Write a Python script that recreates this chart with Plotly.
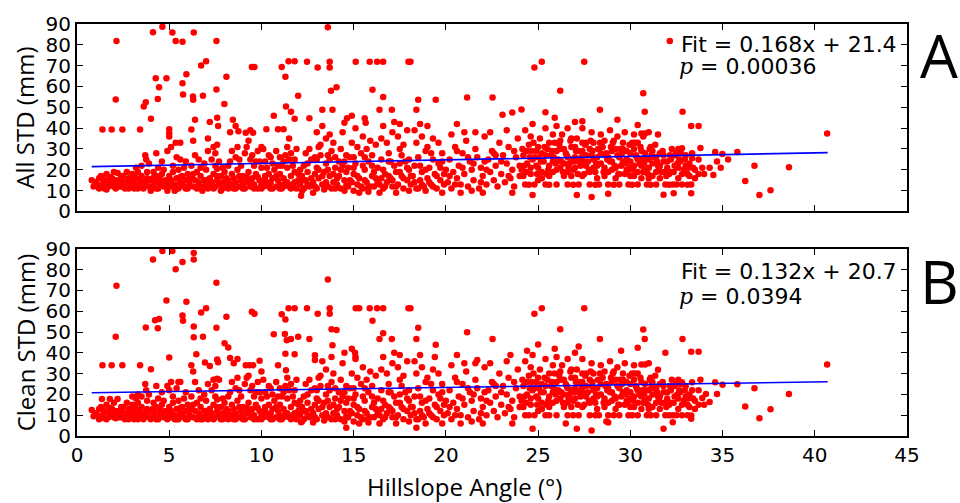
import plotly.graph_objects as go

# ---------------- data ----------------
# Panel A: All STD (mm) vs hillslope angle (deg)
all_std_points = [
    (0.8,15),(1.0,14),(1.1,13),(1.2,16),(1.3,12),(1.3,17),(1.4,13),(1.5,11),(1.5,15),(1.6,18),(1.6,10.5),(1.7,12),(1.7,14.5),
    (1.8,14),(1.9,13),(1.9,16),(2.0,12),(2.0,19),(2.2,18.5),
    (1.38,39.3),(1.88,39.3),(2.46,39.3),(2.14,81.8),(2.1,53.7),
    (2.1,11),(2.2,13),(2.3,15),(2.4,12),(2.5,14),(2.5,17),(2.6,11),(2.7,13),(2.7,19),(2.8,16),(2.9,12),(3.0,14),(3.0,18),
    (3.1,11),(3.2,13),(3.2,16),(3.2,21),(3.3,19),(3.4,12),(3.4,15),(3.5,17),(3.5,22),(3.6,11),(3.6,14),(3.7,13),(3.7,27),
    (3.75,25),(3.8,16),(3.8,19),(3.9,12),(4.0,15),(4.0,10),
    (3.42,39.3),(3.62,50.4),(3.73,52.4),(4.01,44.5),(4.27,63.9),(4.38,54.0),(4.45,59.6),(4.12,86.0),(4.63,88.7),(4.3,28),(4.6,24),
    (4.1,12),(4.15,19),(4.2,14),(4.3,11),(4.3,17),(4.4,16),(4.5,13),(4.6,18),(4.6,14),(4.7,12),(4.7,20),(4.8,15),(4.9,10),
    (4.9,29),(5.0,14),(5.0,17),(5.0,36),(5.1,12),(5.1,31),(5.2,19),(5.2,22),(5.3,13),(5.3,10),(5.4,16),(5.4,26),(5.5,11),
    (5.5,20),(5.6,14),(5.6,25),(5.7,17),(5.7,13),(5.8,12),(5.8,21),(5.9,15),(6.0,18),(6.0,11),
    (4.85,63.9),(5.17,85.9),(5.35,81.8),(5.72,81.5),(5.72,61.5),(5.75,56.1),(5.93,65.9),(5.0,39.5),(5.0,37.5),(5.35,33),
    (5.6,33),(6.33,85.9),(6.29,55.2),(6.3,53.6),(6.2,39.3),(6.4,44),(6.3,34),(6.4,27),
    (6.1,13),(6.2,16),(6.2,22),(6.3,12),(6.4,15),(6.5,19),(6.5,11),(6.6,14),(6.6,25),(6.7,17),(6.8,12),(6.8,10),(6.9,15),
    (6.9,23),(7.0,13),(7.0,20),(7.1,11),(7.1,29),(7.2,16),(7.2,12),(7.3,14),(7.3,25),(7.4,18),(7.4,31),(7.5,12),(7.5,22),
    (7.5,28),(7.6,15),(7.7,13),(7.7,24),(7.8,17),(7.8,10),(7.9,11),(7.9,21),(8.0,14),(8.0,19),
    (6.83,55.6),(6.73,70.1),(7.0,72.1),(7.56,81.8),(7.56,58.6),(7.2,43),(7.6,45),(7.65,41),(7.1,35),(7.6,32),
    (8.1,12),(8.2,15),(8.3,13),(8.3,24),(8.4,18),(8.4,29),(8.5,11),(8.5,16),(8.6,14),(8.6,26),(8.7,20),(8.7,31),(8.8,12),
    (8.9,15),(8.9,22),(9.0,13),(9.0,17),(9.1,11),(9.1,28),(9.2,14),(9.2,31),(9.3,19),(9.3,34),(9.4,12),(9.4,25),(9.5,16),
    (9.5,27),(9.6,13),(9.6,22),(9.7,18),(9.8,11),(9.8,29),(9.9,15),(9.9,24),(10.0,13),(10.0,21),
    (8.1,64.7),(7.99,51.6),(8.3,38),(8.45,44),(8.6,41),(8.75,38.5),(9.48,69.3),(9.62,69.3),(9.15,37.8),(9.55,37.8),(9.4,39),(10.0,31),
    (10.1,12),(10.1,30),(10.2,15),(10.2,24),(10.3,13),(10.3,21),(10.4,18),(10.4,27),(10.5,11),(10.5,14),(10.6,16),(10.6,23),
    (10.7,20),(10.8,12),(10.8,29),(10.9,15),(11.0,13),(11.0,18),(11.0,26),(11.1,11),(11.1,22),(11.2,16),(11.2,24),(11.3,14),
    (11.4,21),(11.4,31),(11.5,12),(11.6,17),(11.6,28),(11.7,13),(11.7,22),(11.8,19),(11.8,25),(11.9,11),(11.9,30),(12.0,15),
    (10.67,46),(10.27,39.5),(10.9,39.5),(11.2,39.5),(11.1,69.3),(11.47,72.1),(11.8,72.1),(11.3,64.7),(11.33,50.4),
    (11.6,47.9),(11.8,44.5),(11.99,55.5),(11.5,35),(12.15,7.6),
    (12.1,13),(12.2,17),(12.2,10),(12.3,11),(12.3,22),(12.4,15),(12.4,28),(12.5,19),(12.6,12),(12.6,30),(12.7,25),(12.8,14),
    (12.8,9),(12.9,18),(12.9,26),(13.0,11),(13.0,21),(13.1,16),(13.1,31),(13.2,27),(13.2,32),(13.3,13),(13.4,19),(13.4,10.5),
    (13.5,23),(13.5,35),(13.6,12),(13.7,17),(13.7,25),(13.8,29),(13.9,14),(13.9,33),(14.0,21),(14.0,11),
    (12.47,71.9),(13.05,69.1),(13.7,71.9),(13.7,69.1),(13.6,88.4),(12.6,44.7),(13.3,48.8),(13.85,48.8),(14.07,59.6),
    (13.77,58),(13.0,38),(13.7,37),(13.3,41),
    (14.1,13),(14.2,17),(14.2,24),(14.3,11),(14.3,30),(14.4,22),(14.4,38),(14.5,15),(14.6,19),(14.6,27),(14.7,12),(14.7,21),
    (14.8,26),(14.9,14),(14.9,33),(15.0,18),(15.0,10),(15.1,23),(15.1,40),(15.2,13),(15.2,31),(15.3,16),(15.3,9),(15.4,28),
    (15.5,11),(15.5,36),(15.6,20),(15.6,26),(15.7,14),(15.7,30),(15.8,24),(15.8,9.5),(15.9,12),(15.9,34),(16.0,17),
    (15.11,71.9),(15.87,71.9),(14.5,42.6),(14.64,44.7),(15.6,44.7),(15.65,42.6),(16.02,58.4),(14.9,46),
    (16.1,12),(16.2,16),(16.2,32),(16.3,21),(16.4,13),(16.4,9),(16.5,25),(16.5,35),(16.6,11),(16.7,18),(16.8,14),(16.8,33),
    (16.9,28),(16.9,24),(17.0,16),(17.1,12),(17.1,38),(17.2,22),(17.3,19),(17.3,9),(17.4,13),(17.4,36),(17.5,30),(17.6,17),
    (17.6,27),(17.7,11),(17.7,32),(17.8,24),(17.9,15),(17.9,39),(18.0,20),(18.0,10),
    (16.27,71.9),(16.6,71.9),(17.97,71.9),(18.08,71.9),(16.6,54.9),(16.4,48.8),(17.07,48.8),(18.4,48.8),(16.6,41),
    (17.2,43),(17.5,42),
    (18.1,13),(18.2,17),(18.3,22),(18.3,39),(18.4,11),(18.4,33),(18.5,26),(18.6,15),(18.7,19),(18.7,36),(18.8,12),(18.9,29),
    (18.9,10),(19.0,16),(19.0,31),(19.1,21),(19.2,13),(19.3,25),(19.3,35),(19.4,18),(19.5,11),(19.6,23),(19.6,33),(19.7,15),
    (19.8,28),(19.8,9),(19.9,13),(20.0,20),
    (18.5,53.6),(19.45,53.6),(19.0,41),(18.6,42),
    (20.1,14),(20.2,25),(20.3,11),(20.3,37),(20.4,19),(20.5,31),(20.6,16),(20.7,22),(20.8,13),(20.8,9),(20.9,28),(21.0,18),
    (21.0,38),(21.1,34),(21.2,12),(21.3,24),(21.4,20),(21.4,10),(21.5,15),(21.6,30),(21.6,38),(21.7,26),(21.8,11),(21.9,21),
    (22.0,17),(22.0,9),(22.1,36),(22.2,13),(22.3,25),(22.4,19),(22.4,38),(22.5,29),(22.6,15),(22.6,28),(22.7,22),(22.8,12),
    (22.9,33),(23.0,18),(23.1,27),(23.2,14),(23.3,23),(23.3,39),(23.4,31),(23.5,16),(23.6,20),(23.6,9),(23.7,12),(23.8,26),
    (23.9,35),(24.0,17),
    (21.15,54.7),(22.53,54.7),(20.6,42),(23.07,46.4),(23.6,47.5),(24.1,49),
    (24.1,20),(24.2,27),(24.3,13),(24.3,39),(24.4,23),(24.5,32),(24.6,18),(24.6,36),(24.7,25),(24.7,42),(24.7,7.9),(24.8,13),
    (24.9,29),(24.9,22),(25.0,21),(25.1,35),(25.2,16),(25.2,28),(25.3,24),(25.4,13),(25.4,40),(25.5,30),(25.6,22),(25.7,27),
    (25.8,19),(25.8,37),(25.9,33),(26.0,13),(26.0,41),(26.1,25),(26.2,21),(26.2,30),(26.3,37),(26.4,17),(26.5,28),(26.6,13),
    (26.6,40),(26.7,23),(26.8,31),(26.8,25),(26.9,20),(27.0,26),(27.0,43),(27.1,35),(27.1,7.9),(27.2,13),(27.2,29),(27.3,22),
    (27.4,29),(27.4,40),(27.5,18),(27.6,33),(27.7,24),(27.8,13),(27.9,27),(27.9,38),(27.9,6.9),(28.0,21),
    (24.8,69.1),(25.2,71.9),(27.5,71.9),(26.2,58),(25.4,47.6),(27.4,43.3),(28.35,48.8),(25.9,45),
    (28.1,19),(28.2,26),(28.2,22),(28.3,13),(28.4,23),(28.4,37),(28.5,31),(28.6,17),(28.7,28),(28.8,13),(28.8,8.5),(28.9,24),
    (28.9,39),(29.0,20),(29.0,29),(29.1,34),(29.2,16),(29.3,27),(29.3,36),(29.4,13),(29.5,22),(29.6,30),(29.6,24),(29.7,18),
    (29.7,38),(29.8,25),(29.9,13),(30.0,21),(30.0,28),(30.1,33),(30.2,17),(30.2,37),(30.3,27),(30.4,13),(30.4,25),(30.5,23),
    (30.6,29),(30.6,37.4),(30.7,19),(30.7,36),(30.8,25),(30.8,37.4),(30.9,13),(31.0,21),(31.0,38),(31.1,31),(31.2,17),
    (31.2,23),(31.3,26),(31.4,13),(31.5,22),(31.5,37),(31.6,28),(31.7,19),(31.8,24),(31.8,8),(31.9,13),(32.0,21),(32.35,8.8),
    (30.7,56.7),(30.78,47.9),(30.4,41.5),(29.3,44),(32.14,81.8),
    (32.1,18),(32.2,25),(32.3,13),(32.4,22),(32.5,28),(32.5,13),(32.6,16),(32.6,30),(32.7,24),(32.8,13),(32.8,30.3),(32.9,20),
    (33.0,27),(33.1,18),(33.2,23),(33.3,13),(33.3,8.8),(33.35,28),(33.35,25.6),(33.4,21),(33.5,16),(33.7,25),(33.8,30.5),
    (33.9,21),(34.0,18),(34.3,21),(34.5,17.5),(34.7,24),(34.9,21),(34.6,28.5),(34.99,27.6),
    (32.83,47.9),(33.3,41),(33.7,41),
    (35.3,25),(35.8,28.5),(36.73,21.9),(38.6,21.2),(36.23,14.6),(37.0,7.9),(37.6,10.2),(40.67,37.4),
]
# denser core of the point cloud in panel A
all_std_core = [
    (0.9,12),(1.2,11),(1.4,15.5),(1.8,16.5),(2.1,15),(2.3,12),(2.4,17),(2.6,14),(2.8,11),(2.9,15),(3.1,17),(3.3,11),
    (3.5,12.5),(3.9,15),(4.1,16),(4.4,11),(4.5,15.5),(4.8,12.5),(5.1,15),(5.4,11),(5.6,16.5),(5.9,11),(6.1,15.5),(6.3,18),
    (6.6,12),(6.7,11),(7.0,15),(7.2,14),(7.4,11),(7.6,17),(7.9,14),(8.1,16),(8.2,11),(8.4,13),(8.6,11),(8.8,17),(9.0,11),
    (9.2,16.5),(9.4,14.5),(9.6,11),(9.8,16.5),(10.0,11),(10.2,17),(10.4,12),(10.6,11),(10.8,17),(11.0,11),(11.2,12),
    (11.4,14),(11.6,11),(11.8,14),(12.0,18),
    (3.9,23),(4.4,21),(5.9,24),(6.7,21),(7.6,20.5),(8.2,22),(8.8,25),(9.7,24),(10.9,22),(11.3,27),(11.5,25),(10.5,26),
    (12.1,20),(12.3,15),(12.5,13),(12.7,16),(12.9,12),(13.1,20),(13.3,17),(13.5,14),(13.6,20),(13.8,11),(13.9,18),(14.1,16),
    (14.3,20),(14.5,10),(14.6,12.5),(14.8,15),(15.0,21),(15.2,17),(15.4,12),(15.6,15),(15.8,11.5),(16.0,22),(16.1,19),
    (16.3,14),(16.5,16),(16.7,12),(16.9,17),(17.1,15),(17.3,12),(17.5,19),(17.7,16),(17.9,21),(18.1,17),(18.3,14),(18.5,11),
    (18.7,13),(18.9,20),(19.1,14),(19.3,12),(19.5,17),(19.7,21),(19.9,18),
    (12.5,23),(13.0,25),(13.6,27),(14.0,26),(14.5,24),(15.0,26),(15.5,22),(16.0,27),(16.6,20),(17.0,24),(17.5,23),(18.0,25),
    (18.6,22),(19.2,28),(19.8,24),
    (20.2,17),(20.5,13),(20.9,21),(21.2,26),(21.5,23),(21.9,14),(22.2,20),(22.7,27),(23.0,24),(23.4,17),(23.7,29),(24.0,22),
    (20.6,29),(22.1,24),
    (24.2,17),(24.4,29),(24.6,21),(24.8,26),(25.0,15),(25.0,31),(25.2,19),(25.4,27),(25.6,33),(25.6,17),(25.8,24),(26.0,20),
    (26.0,29),(26.2,34),(26.4,23),(26.4,30),(26.6,19),(26.6,26),(26.8,17),(26.8,35),(27.0,21),(27.0,31),(27.2,24),(27.4,17),
    (27.4,33),(27.6,22),(27.6,27),(27.8,19),(27.8,30),(28.0,25),(28.0,33),(28.2,16),(28.4,28),(28.6,21),(28.6,34),(28.8,26),
    (28.8,19),(29.0,24),(29.2,30),(29.2,21),(29.4,18),(29.4,26),(29.6,33),(29.8,20),(29.8,29),(30.0,24),(30.0,17),(30.2,30),
    (30.2,22),(30.4,19),(30.4,33),(30.6,22),(30.6,16),(30.8,28),(30.8,20),(31.0,25),(31.0,16),(31.2,29),(31.4,19),(31.4,26),
    (31.6,22),(31.6,16),(31.8,27),(32.0,24),(32.2,19),(32.4,27),(32.6,21),(32.8,18),(33.0,22),(33.2,17),(33.5,20),(33.7,18),
    (24.15,30),(24.35,19),(24.55,26),(24.75,33),(24.95,18),(25.15,24),(25.35,31),(25.55,20),(25.75,29),(25.95,23),(26.15,32),
    (26.35,19),(26.55,27),(26.75,34),(26.95,24),(27.15,18),(27.35,26),(27.55,32),(27.75,20),(27.95,29),(28.15,23),(28.35,33),
    (28.55,19),(28.75,25),(28.95,31),(29.15,22),(29.35,18),(29.55,28),(29.75,23),(29.95,32),(30.15,20),(30.35,26),(30.55,31),
    (30.75,23),(30.95,18),(31.15,27),(31.35,32),(31.55,20),(31.75,29),(31.95,17),(32.15,27),(32.35,19),(32.55,23),(32.75,28),
    (32.95,25),(33.15,21),(24.25,22),(24.65,29),(25.05,26),(25.45,18),(25.85,26),(26.25,24),(26.65,21),(27.05,29),(27.45,24),
    (27.85,34),(28.25,30),(28.65,27),(29.05,33),(29.45,30),(29.85,19),(30.25,33),(30.65,25),(31.05,30),(31.45,24),(31.85,19),
    (32.25,30),(32.65,25),
    (24.5,12.8),(25.6,12.8),(26.9,12.8),(28.1,12.8),(29.1,12.8),(30.1,12.8),(31.1,12.8),(32.1,12.8),(33.1,12.8),
]

# Panel B: Clean STD (mm) vs hillslope angle (deg)
clean_std_points = [
    (0.8,12.5),(1.0,11),(1.1,10),(1.2,13),(1.3,9),(1.3,14),(1.4,10),(1.5,8.5),(1.5,12),(1.6,15),(1.6,8),(1.7,9),(1.7,11.5),
    (1.8,11),(1.9,10),(1.9,13),(2.0,9),(2.0,16),(1.35,17.8),(1.78,17.8),(2.2,17.8),
    (1.38,34),(1.88,34),(2.46,34),(3.42,34),(2.14,72.2),(2.1,47.7),
    (2.1,8.5),(2.2,10),(2.3,12),(2.4,9),(2.5,11),(2.5,14),(2.6,8),(2.7,10),(2.7,16),(2.8,13),(2.9,9),(3.0,11),(3.0,15),
    (3.0,19),(3.1,8),(3.2,10),(3.2,13),(3.2,18),(3.3,16),(3.3,20),(3.4,9),(3.4,12),(3.5,14),(3.5,19),(3.6,8),(3.6,11),
    (3.7,10),(3.7,25),(3.75,22),(3.8,13),(3.8,17),(3.9,9),(4.0,12),(4.0,8),
    (4.01,32.1),(3.73,52.2),(4.23,55.6),(4.45,56.3),(4.38,51.8),(4.12,84.9),(4.63,89),(4.3,24),(4.6,21),
    (4.1,9),(4.15,16),(4.2,11),(4.3,8),(4.3,14),(4.4,13),(4.5,10),(4.6,15),(4.6,11),(4.7,9),(4.7,17),(4.8,12),(4.9,8),
    (4.9,24),(5.0,11),(5.0,14),(5.0,22),(5.1,9),(5.1,26),(5.2,16),(5.2,19),(5.3,10),(5.3,8),(5.4,13),(5.4,23),(5.5,8),
    (5.5,17),(5.5,26),(5.6,11),(5.6,26),(5.7,14),(5.7,10),(5.8,9),(5.8,18),(5.9,12),(6.0,15),(6.0,8),
    (4.85,65.2),(5.17,89),(5.0,37.7),(5.35,80.2),(5.72,83.7),(6.33,84.9),(6.33,88),(5.72,57.9),(5.75,55.4),(5.93,64.6),
    (6.33,52.6),(6.33,47.5),(6.2,34),(6.47,39.3),(6.3,31),(6.4,26),
    (6.1,10),(6.2,13),(6.2,19),(6.3,9),(6.4,12),(6.5,16),(6.5,8),(6.6,11),(6.6,22),(6.7,14),(6.8,9),(6.8,8),(6.9,12),
    (6.9,20),(7.0,10),(7.0,17),(7.1,8),(7.1,25),(7.2,13),(7.2,9),(7.3,11),(7.3,22),(7.4,15),(7.4,27),(7.5,9),(7.5,19),
    (7.5,24),(7.6,12),(7.6,27.5),(7.7,10),(7.7,27),(7.8,14),(7.8,8),(7.9,8),(7.9,18),(8.0,11),(8.0,16),
    (6.73,59.4),(7.0,61.4),(6.83,47.7),(6.94,35.4),(7.56,73.7),(7.56,52.1),(7.6,36.8),(7.2,33.6),(7.65,35.5),
    (8.1,9),(8.2,12),(8.3,10),(8.3,21),(8.4,15),(8.4,26),(8.5,8),(8.5,13),(8.6,11),(8.6,23),(8.7,17),(8.7,28),(8.8,9),
    (8.9,12),(8.9,19),(9.0,10),(9.0,14),(9.1,8),(9.1,25),(9.2,11),(9.2,28),(9.3,16),(9.3,29),(9.4,9),(9.4,22),(9.5,13),
    (9.5,24),(9.6,10),(9.6,19),(9.7,15),(9.8,8),(9.8,26),(9.9,12),(9.9,21),(10.0,10),(10.0,18),(10.0,31),
    (8.1,57.4),(8.0,44.6),(8.2,42.6),(8.3,37.5),(8.5,35),(8.7,37),(9.48,59.8),(9.62,58.8),(9.15,34),(9.35,34),(9.55,34),(9.9,36.2),
    (10.1,9),(10.1,27),(10.2,12),(10.2,21),(10.3,10),(10.3,19),(10.4,15),(10.4,24),(10.5,8),(10.5,11),(10.6,13),(10.6,20),
    (10.7,17),(10.8,9),(10.8,26),(10.9,12),(11.0,10),(11.0,15),(11.0,23),(11.1,8),(11.1,19),(11.2,13),(11.2,21),(11.3,11),
    (11.4,18),(11.4,28),(11.5,9),(11.6,14),(11.6,25),(11.7,10),(11.7,19),(11.8,16),(11.8,22),(11.9,8),(11.9,27),(12.0,12),
    (10.67,48.9),(10.9,34),(11.1,58.5),(11.47,61.4),(11.8,61.4),(11.3,56),(11.27,49),(11.37,46),(11.6,46.6),(11.99,47.7),
    (11.3,39.6),(11.8,39.3),(11.33,31.6),(12.15,6.6),
    (12.1,10),(12.2,14),(12.2,7),(12.3,8),(12.3,19),(12.4,12),(12.4,25),(12.5,16),(12.6,9),(12.6,27),(12.7,22),(12.8,11),
    (12.8,6.5),(12.9,15),(12.9,23),(13.0,8),(13.0,18),(13.1,13),(13.1,28),(13.2,24),(13.2,29),(13.3,10),(13.4,16),(13.4,7.5),
    (13.5,20),(13.5,32),(13.6,9),(13.7,14),(13.7,22),(13.8,26),(13.9,11),(13.9,30),(14.0,18),(14.0,8),
    (12.47,61.4),(13.05,58.8),(13.7,61.4),(13.7,58.8),(13.6,75.3),(12.9,38.8),(12.9,36.6),(13.8,51.3),(14.07,51),
    (12.6,46.7),(13.85,43.6),(13.3,36),(13.8,38),
    (14.1,10),(14.2,14),(14.2,21),(14.3,8),(14.3,27),(14.4,19),(14.4,35),(14.5,12),(14.6,16),(14.6,24),(14.6,4),(14.7,9),
    (14.7,18),(14.8,23),(14.9,11),(14.9,30),(15.0,15),(15.0,7),(15.1,20),(15.1,37),(15.2,10),(15.2,28),(15.3,13),(15.3,6),
    (15.4,25),(15.5,8),(15.5,33),(15.6,17),(15.6,23),(15.7,11),(15.7,27),(15.8,21),(15.8,6.5),(15.9,9),(15.9,31),(16.0,14),
    (15.11,61.4),(15.3,61.4),(15.87,61.4),(16.02,55.4),(14.5,40),(15.07,40),(15.1,38),(14.9,42),
    (16.1,9),(16.2,13),(16.2,29),(16.3,18),(16.4,10),(16.4,6),(16.5,22),(16.5,32),(16.6,8),(16.7,15),(16.8,11),(16.8,30),
    (16.9,25),(16.9,21),(17.0,13),(17.1,9),(17.1,35),(17.2,19),(17.3,16),(17.3,6),(17.4,10),(17.4,33),(17.5,27),(17.6,14),
    (17.6,24),(17.7,8),(17.7,29),(17.8,21),(17.9,12),(17.9,36),(18.0,17),(18.0,7),
    (16.27,61.4),(16.6,61.4),(17.97,61.4),(18.08,61.4),(16.6,49.4),(16.4,46.7),(17.07,46.7),(18.4,46.7),(16.6,38),
    (17.2,40),(17.5,39),
    (18.1,10),(18.2,14),(18.3,19),(18.3,36),(18.4,8),(18.4,30),(18.4,4),(18.5,23),(18.6,12),(18.7,16),(18.7,33),(18.8,9),
    (18.9,26),(18.9,6),(19.0,13),(19.0,28),(19.1,18),(19.2,10),(19.3,22),(19.3,32),(19.4,15),(19.5,8),(19.6,20),(19.6,30),
    (19.7,12),(19.8,25),(19.8,6),(19.9,10),(20.0,17),
    (18.5,52.1),(19.45,43.9),(19.4,38),(18.6,39),
    (20.1,11),(20.2,22),(20.3,8),(20.3,34),(20.4,16),(20.5,28),(20.6,13),(20.7,19),(20.8,10),(20.8,6),(20.9,25),(21.0,15),
    (21.0,35),(21.1,31),(21.2,9),(21.3,21),(21.4,17),(21.4,7),(21.5,12),(21.6,27),(21.6,35),(21.7,23),(21.8,8),(21.9,18),
    (22.0,14),(22.0,6),(22.1,33),(22.2,10),(22.3,22),(22.4,16),(22.4,35),(22.5,26),(22.6,12),(22.6,25),(22.7,19),(22.8,9),
    (22.9,30),(23.0,15),(23.1,24),(23.2,11),(23.3,20),(23.3,36),(23.4,28),(23.5,13),(23.6,17),(23.6,6),(23.7,9),(23.8,23),
    (23.9,32),(24.0,14),
    (21.15,49.9),(22.53,46.7),(20.6,39),(23.5,39),(21.7,36.5),
    (24.1,17),(24.2,24),(24.3,10),(24.3,36),(24.4,20),(24.5,29),(24.6,15),(24.6,33),(24.7,22),(24.7,39),(24.7,3.5),(24.8,10),
    (24.9,26),(24.9,19),(25.0,18),(25.1,32),(25.2,13),(25.2,25),(25.3,21),(25.4,10),(25.4,37),(25.5,27),(25.6,19),(25.7,24),
    (25.8,16),(25.8,34),(25.9,30),(26.0,10),(26.0,38),(26.1,22),(26.2,18),(26.2,27),(26.3,34),(26.4,14),(26.5,25),(26.5,6),
    (26.6,10),(26.6,37),(26.7,20),(26.8,28),(26.8,22),(26.9,17),(27.0,23),(27.0,40),(27.1,32),(27.1,3.5),(27.2,10),(27.2,26),
    (27.3,19),(27.4,26),(27.4,37),(27.5,15),(27.6,30),(27.7,21),(27.8,10),(27.9,24),(27.9,35),(27.9,2.6),(28.0,18),
    (24.8,58.8),(25.2,61.4),(27.5,61.4),(26.2,51.3),(28.35,46.7),(25.0,44),(24.4,41),(25.9,42),(27.2,43),
    (28.1,16),(28.2,23),(28.2,19),(28.3,10),(28.4,20),(28.4,34),(28.5,28),(28.6,14),(28.7,25),(28.7,7),(28.8,10),(28.8,6.5),
    (28.9,21),(28.9,36),(29.0,17),(29.0,26),(29.1,31),(29.2,13),(29.3,24),(29.3,33),(29.4,10),(29.5,19),(29.6,27),(29.6,21),
    (29.7,15),(29.7,35),(29.8,22),(29.9,10),(30.0,18),(30.0,25),(30.1,30),(30.2,14),(30.2,34),(30.3,24),(30.4,10),(30.4,22),
    (30.5,20),(30.6,26),(30.6,34.4),(30.7,16),(30.8,22),(30.8,34.4),(30.9,10),(31.0,18),(31.0,35),(31.1,28),(31.2,14),
    (31.2,20),(31.3,23),(31.4,10),(31.5,19),(31.5,31.9),(31.6,25),(31.7,16),(31.8,21),(31.8,3.5),(31.9,10),(32.0,18),(32.3,6.6),
    (30.7,51.2),(30.78,46.7),(30.4,42.4),(29.5,41),(31.9,40),
    (32.1,15),(32.2,22),(32.3,10),(32.4,19),(32.5,25),(32.5,10),(32.6,13),(32.6,27),(32.7,21),(32.8,10),(32.8,25.9),(32.9,17),
    (33.0,24),(33.1,15),(33.2,20),(33.3,9.9),(33.3,8.3),(33.35,25.9),(33.35,22),(33.4,18),(33.5,13),(33.7,22),(33.8,27.1),
    (33.9,18.3),(34.0,15),(34.1,20.2),(34.3,16.4),(34.7,20.2),(34.6,25.9),(35.0,24.6),
    (32.83,46.7),(33.3,40.5),(33.7,40.5),
    (35.8,24.9),(36.73,23),(38.6,20.2),(36.23,14.2),(37.0,8.5),(37.6,12.9),(40.67,34.4),
]
# denser core of the point cloud in panel B
clean_std_core = [
    (0.9,9.5),(1.2,8),(1.4,12.5),(1.8,13.5),(2.1,12),(2.3,9),(2.4,14),(2.6,11),(2.8,8),(2.9,12),(3.1,14),(3.3,8),(3.5,9.5),
    (3.9,12),(4.1,13),(4.4,8),(4.5,12.5),(4.8,9.5),(5.1,12),(5.4,8),(5.6,13.5),(5.9,8),(6.1,12.5),(6.3,15),(6.6,9),(6.7,8),
    (7.0,12),(7.2,11),(7.4,8),(7.6,14),(7.9,11),(8.1,13),(8.2,8),(8.4,10),(8.6,8),(8.8,14),(9.0,8),(9.2,13.5),(9.4,11.5),
    (9.6,8),(9.8,13.5),(10.0,8),(10.2,14),(10.4,9),(10.6,8),(10.8,14),(11.0,8),(11.2,9),(11.4,11),(11.6,8),(11.8,11),(12.0,15),
    (3.9,20),(4.4,18),(5.9,21),(6.7,18),(7.6,17.5),(8.2,19),(8.8,22),(9.7,21),(10.9,19),(11.3,24),(11.5,22),(10.5,23),
    (12.1,17),(12.3,12),(12.5,10),(12.7,13),(12.9,9),(13.1,17),(13.3,14),(13.5,11),(13.6,17),(13.8,8),(13.9,15),(14.1,13),
    (14.3,17),(14.5,7),(14.6,9.5),(14.8,12),(15.0,18),(15.2,14),(15.4,9),(15.6,12),(15.8,8.5),(16.0,19),(16.1,16),(16.3,11),
    (16.5,13),(16.7,9),(16.9,14),(17.1,12),(17.3,9),(17.5,16),(17.7,13),(17.9,18),(18.1,14),(18.3,11),(18.5,8),(18.7,10),
    (18.9,17),(19.1,11),(19.3,9),(19.5,14),(19.7,18),(19.9,15),
    (12.5,20),(13.0,22),(13.6,24),(14.0,23),(14.5,21),(15.0,23),(15.5,19),(16.0,24),(16.6,17),(17.0,21),(17.5,20),(18.0,22),
    (18.6,19),(19.2,25),(19.8,21),
    (20.2,14),(20.5,10),(20.9,18),(21.2,23),(21.5,20),(21.9,11),(22.2,17),(22.7,24),(23.0,21),(23.4,14),(23.7,26),(24.0,19),
    (20.6,26),(22.1,21),
    (24.2,14),(24.4,26),(24.6,18),(24.8,23),(25.0,12),(25.0,28),(25.2,16),(25.4,24),(25.6,30),(25.6,14),(25.8,21),(26.0,17),
    (26.0,26),(26.2,31),(26.4,20),(26.4,27),(26.6,16),(26.6,23),(26.8,14),(26.8,32),(27.0,18),(27.0,28),(27.2,21),(27.4,14),
    (27.4,30),(27.6,19),(27.6,24),(27.8,16),(27.8,27),(28.0,22),(28.0,30),(28.2,13),(28.4,25),(28.6,18),(28.6,31),(28.8,23),
    (28.8,16),(29.0,21),(29.2,27),(29.2,18),(29.4,15),(29.4,23),(29.6,30),(29.8,17),(29.8,26),(30.0,21),(30.0,14),(30.2,27),
    (30.2,19),(30.4,16),(30.4,30),(30.6,19),(30.6,13),(30.8,25),(30.8,17),(31.0,22),(31.0,13),(31.2,26),(31.4,16),(31.4,23),
    (31.6,19),(31.6,13),(31.8,24),(32.0,21),(32.2,16),(32.4,24),(32.6,18),(32.8,15),(33.0,19),(33.2,14),(33.5,17),(33.7,15),
    (24.15,27),(24.35,16),(24.55,23),(24.75,30),(24.95,15),(25.15,21),(25.35,28),(25.55,17),(25.75,26),(25.95,20),(26.15,29),
    (26.35,16),(26.55,24),(26.75,31),(26.95,21),(27.15,15),(27.35,23),(27.55,29),(27.75,17),(27.95,26),(28.15,20),(28.35,30),
    (28.55,16),(28.75,22),(28.95,28),(29.15,19),(29.35,15),(29.55,25),(29.75,20),(29.95,29),(30.15,17),(30.35,23),(30.55,28),
    (30.75,20),(30.95,15),(31.15,24),(31.35,29),(31.55,17),(31.75,26),(31.95,14),(32.15,24),(32.35,16),(32.55,20),(32.75,25),
    (32.95,22),(33.15,18),(24.25,19),(24.65,26),(25.05,23),(25.45,15),(25.85,23),(26.25,21),(26.65,18),(27.05,26),(27.45,21),
    (27.85,31),(28.25,27),(28.65,24),(29.05,30),(29.45,27),(29.85,16),(30.25,30),(30.65,22),(31.05,27),(31.45,21),(31.85,16),
    (32.25,27),(32.65,22),
    (24.5,10),(25.6,10),(26.9,10),(28.1,10),(29.1,10),(30.1,10),(31.1,10),(32.1,10),(33.1,10),
]

panel_a = all_std_points + all_std_core
panel_b = clean_std_points + clean_std_core
angle_a = [p[0] for p in panel_a]
std_a = [p[1] for p in panel_a]
angle_b = [p[0] for p in panel_b]
std_b = [p[1] for p in panel_b]

# Linear fits printed on the chart
fit_a_slope, fit_a_intercept = 0.168, 21.4
fit_b_slope, fit_b_intercept = 0.132, 20.7
fit_angle_range = [0.8, 40.7]

x_ticks = [0, 5, 10, 15, 20, 25, 30, 35, 40, 45]
y_ticks = [0, 10, 20, 30, 40, 50, 60, 70, 80, 90]

# ---------------- figure ----------------
fig = go.Figure()
marker = dict(color="#ff0000", size=6.5, line=dict(width=0))
fig.add_trace(go.Scatter(x=angle_a, y=std_a, mode="markers", marker=marker, xaxis="x", yaxis="y", showlegend=False))
fig.add_trace(go.Scatter(x=fit_angle_range, y=[fit_a_slope * v + fit_a_intercept for v in fit_angle_range],
                         mode="lines", line=dict(color="#0000ff", width=1.6), xaxis="x", yaxis="y", showlegend=False))
fig.add_trace(go.Scatter(x=angle_b, y=std_b, mode="markers", marker=marker, xaxis="x2", yaxis="y2", showlegend=False))
fig.add_trace(go.Scatter(x=fit_angle_range, y=[fit_b_slope * v + fit_b_intercept for v in fit_angle_range],
                         mode="lines", line=dict(color="#0000ff", width=1.6), xaxis="x2", yaxis="y2", showlegend=False))

tickfont = dict(family="DejaVu Sans", size=20, color="black")
axis_common = dict(range=[0, 45], tickvals=x_ticks, ticks="inside", ticklen=6, tickwidth=1, tickcolor="black",
                   showline=True, linecolor="black", linewidth=2, mirror="ticks", showgrid=False, zeroline=False)
yaxis_common = dict(range=[0, 90], tickvals=y_ticks, ticks="inside", ticklen=6, tickwidth=1, tickcolor="black",
                    showline=True, linecolor="black", linewidth=2, mirror="ticks", showgrid=False, zeroline=False,
                    tickfont=tickfont)

fig.update_layout(
    width=960, height=503,
    margin=dict(l=77, r=53, t=20, b=67),
    paper_bgcolor="white", plot_bgcolor="white",
    xaxis=dict(axis_common, anchor="y", showticklabels=False),
    yaxis=dict(yaxis_common, domain=[0.545, 1.0], anchor="x"),
    xaxis2=dict(axis_common, anchor="y2", tickfont=tickfont),
    yaxis2=dict(yaxis_common, domain=[0.0, 0.4543], anchor="x2"),
)

ann_font = dict(family="DejaVu Sans", size=22, color="black")
p_span = "<span style='font-family:DejaVu Serif'><i>p</i></span>"
title_font = dict(family="Open Sans", size=24, color="black")
letter_font = dict(family="Open Sans", size=60, color="black")
annotations = [
    dict(text="Fit = 0.168x + 21.4", x=0.725, y=0.9495, xref="paper", yref="paper", xanchor="left", yanchor="middle",
         showarrow=False, font=ann_font),
    dict(text=p_span + " = 0.00036", x=0.723, y=0.898, xref="paper", yref="paper", xanchor="left", yanchor="middle",
         showarrow=False, font=ann_font),
    dict(text="Fit = 0.132x + 20.7", x=0.725, y=0.399, xref="paper", yref="paper", xanchor="left", yanchor="middle",
         showarrow=False, font=ann_font),
    dict(text=p_span + " = 0.0394", x=0.723, y=0.3377, xref="paper", yref="paper", xanchor="left", yanchor="middle",
         showarrow=False, font=ann_font),
    dict(text="A", x=1.039, y=0.925, xref="paper", yref="paper", xanchor="center", yanchor="middle",
         showarrow=False, font=letter_font),
    dict(text="B", x=1.039, y=0.377, xref="paper", yref="paper", xanchor="center", yanchor="middle",
         showarrow=False, font=letter_font),
    dict(text="All STD (mm)", x=-0.0627, y=0.7725, xref="paper", yref="paper", xanchor="center", yanchor="middle",
         textangle=-90, showarrow=False, font=title_font),
    dict(text="Clean STD (mm)", x=-0.0627, y=0.2272, xref="paper", yref="paper", xanchor="center", yanchor="middle",
         textangle=-90, showarrow=False, font=title_font),
    dict(text="Hillslope Angle (°)", x=0.4663, y=-0.1226, xref="paper", yref="paper", xanchor="center", yanchor="middle",
         showarrow=False, font=title_font),
]
fig.update_layout(annotations=annotations)

fig.write_html("out.html", config={"displayModeBar": False})

# remove the default page margin so the 960x503 figure fills the window exactly
with open("out.html", encoding="utf-8") as fh:
    html = fh.read()
html = html.replace("<head>", "<head><style>html,body{margin:0;padding:0;overflow:hidden;}</style>", 1)
with open("out.html", "w", encoding="utf-8") as fh:
    fh.write(html)
